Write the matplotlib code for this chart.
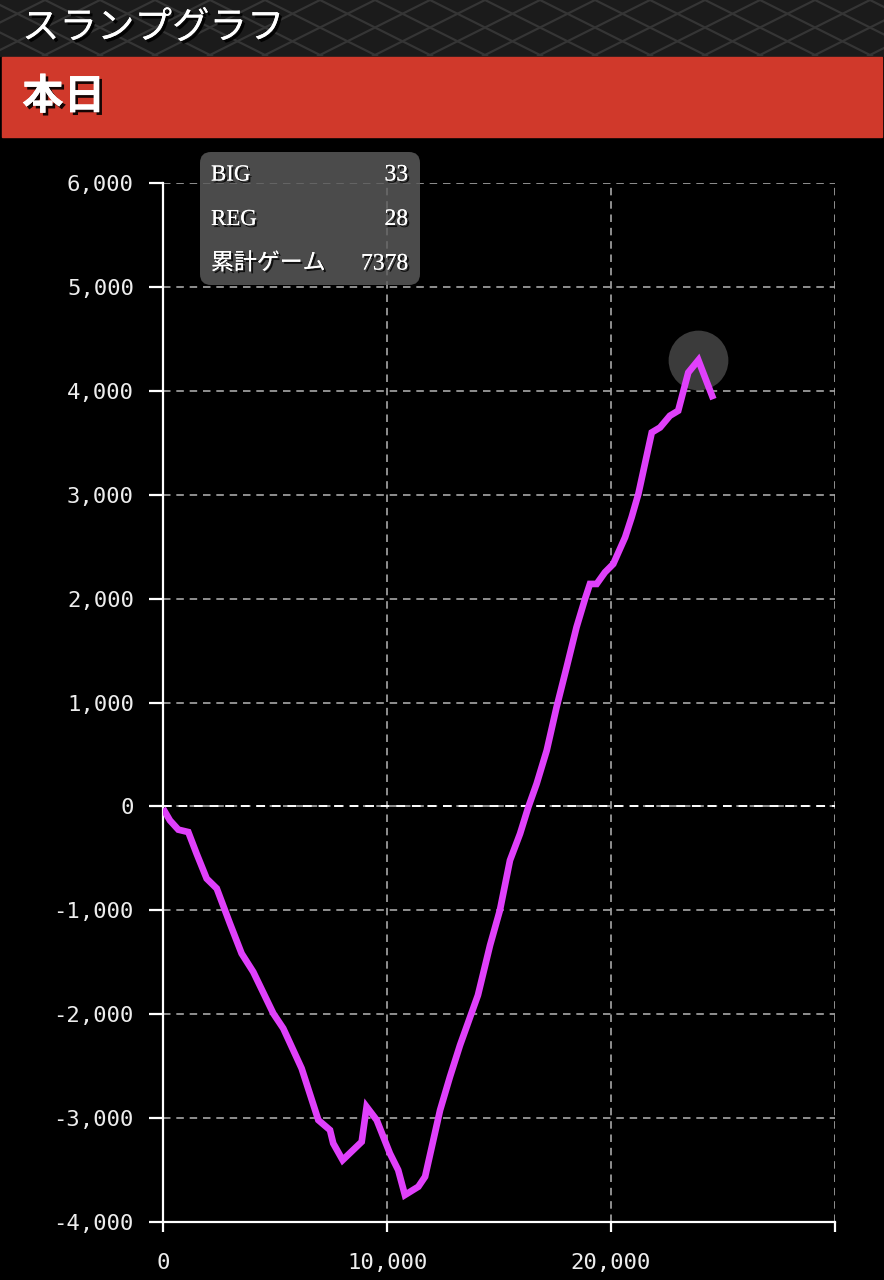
import numpy as np
import matplotlib.pyplot as plt
import matplotlib.patheffects as pe
from matplotlib.patches import FancyBboxPatch, Rectangle

plt.rcParams['font.family'] = ['DejaVu Sans Mono', 'Noto Sans CJK JP']

# slump data: games played vs. medal difference
games = [0, 310, 685, 1130, 1500, 1950, 2400, 2990, 3510, 4030, 4925, 5370,
         6190, 6935, 7455, 7600, 8020, 8870, 9090, 9540, 10130, 10500, 10800,
         11400, 11700, 12370, 12810, 13260, 14060, 14600, 15040, 15490, 15940,
         16310, 16680, 17130, 17570, 18020, 18460, 18840, 19060, 19360, 19730,
         20100, 20630, 20920, 21220, 21820, 22190, 22630, 23000, 23450, 23900,
         24570]
diff = [-20, -135, -224, -247, -455, -695, -790, -1128, -1416, -1593, -1993,
        -2137, -2522, -3019, -3115, -3243, -3404, -3228, -2891, -3019, -3340,
        -3500, -3740, -3660, -3564, -2923, -2603, -2298, -1817, -1337, -1000,
        -519, -263, -6, 218, 538, 955, 1340, 1724, 1997, 2141, 2141, 2253, 2333,
        2590, 2782, 3006, 3599, 3647, 3760, 3808, 4176, 4295, 3920]

stat_names = ['BIG', 'REG', '累計ゲーム']
stat_values = ['33', '28', '7378']

y_ticks = list(range(-4000, 6001, 1000))
x_ticks = [0, 10000, 20000, 30000]
x_tick_labels = ['0', '10,000', '20,000', '']

W, H = 884, 1280
fig = plt.figure(figsize=(W / 100, H / 100), dpi=100, facecolor='black')

# main chart
ax = fig.add_axes([163 / W, 1 - 1222 / H, (835 - 163) / W, (1222 - 183) / H])
ax.set_facecolor('black')
ax.set_xlim(0, 30000)
ax.set_ylim(-4000, 6000)
ax.set_yticks(y_ticks)
ax.set_yticklabels([f'{v:,}' for v in y_ticks])
ax.set_xticks(x_ticks)
ax.set_xticklabels(x_tick_labels)

for s in ['top', 'right']:
    ax.spines[s].set_visible(False)
for s in ['left', 'bottom']:
    ax.spines[s].set_color('white')
    ax.spines[s].set_linewidth(1.6)

ax.tick_params(axis='y', length=10, width=1.6, color='white', pad=11,
               labelsize=16, labelcolor='#ededed')
ax.tick_params(axis='x', length=7, width=1.6, color='white', pad=15,
               labelsize=16, labelcolor='#ededed')

ax.grid(True, color='#a8a8a8', linestyle=(0, (4.5, 3.5)), linewidth=1.2)
ax.set_axisbelow(True)
ax.axhline(0, color='white', linestyle=(0, (4.5, 3.5)), linewidth=1.4, zorder=2)

# highlight around the peak
peak = int(np.argmax(diff))
ax.scatter([games[peak]], [diff[peak]], s=1850, color='#3b3b3b', zorder=4,
           linewidths=0)

ax.plot(games, diff, color='#E040FB', linewidth=4.8, solid_joinstyle='miter',
        solid_capstyle='butt', zorder=5)

# overlay in pixel coordinates for header and tooltip
ov = fig.add_axes([0, 0, 1, 1], zorder=10)
ov.set_xlim(0, W)
ov.set_ylim(H, 0)
ov.axis('off')
ov.patch.set_alpha(0)

hdr = Rectangle((0, 0), W, 56, color='#1b1b1b', zorder=1)
ov.add_patch(hdr)
for c in np.arange(-120, W + 120, 55):
    for sgn in (1, -1):
        ln, = ov.plot([c, c + sgn * 112], [0, 56], color='#353535', lw=1.6, zorder=2)
        ln.set_clip_path(hdr)

shadow = [pe.withSimplePatchShadow(offset=(2, -2), shadow_rgbFace='black', alpha=0.9),
          pe.Normal()]

ov.text(22, 28, 'スランプグラフ', color='white', fontsize=27, va='center',
        ha='left', family=['Noto Sans CJK JP'], zorder=3, path_effects=shadow)

ov.add_patch(Rectangle((2, 57), W - 4, 80, color='#D0392B', zorder=1))
ov.text(22, 97, '本日', color='white', fontsize=30, fontweight='bold',
        va='center', ha='left', family=['Noto Sans CJK JP'], zorder=3,
        path_effects=shadow)

# tooltip box
ov.add_patch(FancyBboxPatch((200, 152), 220, 133,
                            boxstyle='round,pad=0,rounding_size=11',
                            fc='#5c5c5c', ec='none', alpha=0.82, zorder=1))
tip_shadow = [pe.withSimplePatchShadow(offset=(1.5, -1.5), shadow_rgbFace='black', alpha=0.8),
              pe.Normal()]
for i, (name, val) in enumerate(zip(stat_names, stat_values)):
    yy = 175 + i * 44.5
    ov.text(211, yy, name, color='white', fontsize=16.5, va='center', ha='left',
            family=['Liberation Serif', 'Noto Sans CJK JP'], zorder=3,
            path_effects=tip_shadow)
    ov.text(408, yy, val, color='white', fontsize=17, va='center', ha='right',
            family=['Liberation Serif'], zorder=3, path_effects=tip_shadow)

fig.savefig('out.png', dpi=100, facecolor='black')
